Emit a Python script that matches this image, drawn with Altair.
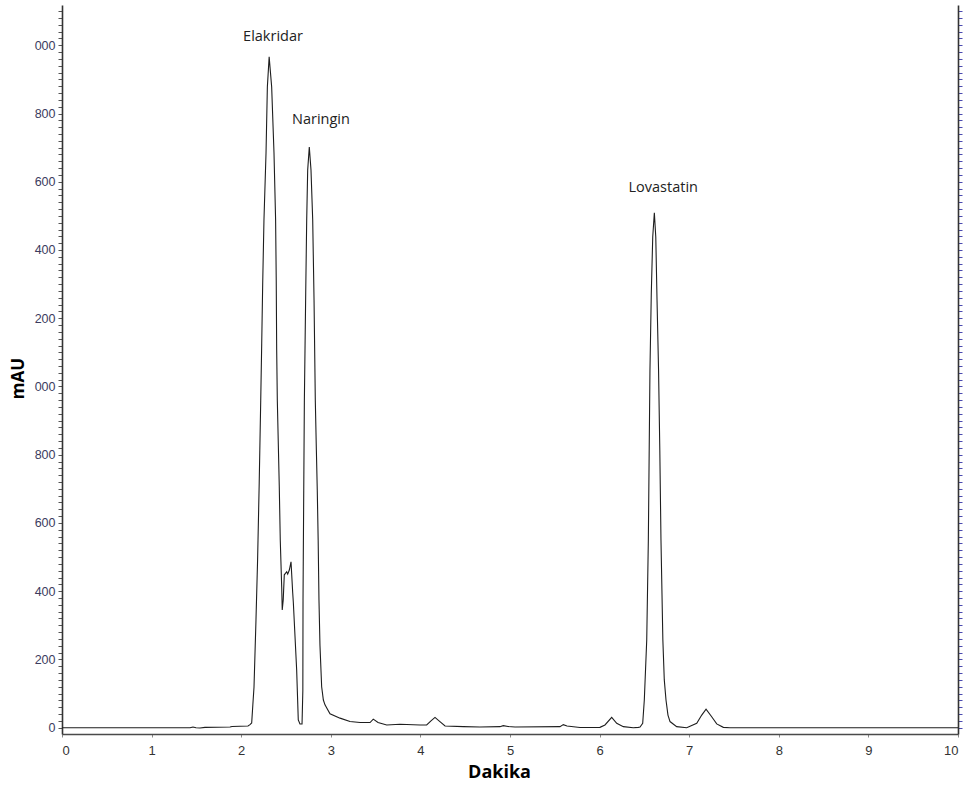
import altair as alt
import pandas as pd

# Chromatogram trace (time in minutes, signal in mAU)
time_min = [0.000, 1.429, 1.462, 1.496, 1.540, 1.596, 1.875, 1.897, 2.076, 2.098,
            2.117, 2.130, 2.143, 2.165, 2.183, 2.201, 2.218, 2.229, 2.240, 2.254,
            2.277, 2.292, 2.312, 2.340, 2.366, 2.384, 2.391, 2.396, 2.403, 2.425,
            2.436, 2.452, 2.458, 2.469, 2.481, 2.508, 2.519, 2.537, 2.556, 2.575,
            2.582, 2.619, 2.637, 2.656, 2.679, 2.688, 2.690, 2.693, 2.705, 2.720,
            2.731, 2.742, 2.760, 2.779, 2.798, 2.813, 2.827, 2.839, 2.849, 2.859,
            2.868, 2.879, 2.898, 2.917, 2.935, 2.991, 3.103, 3.214, 3.326, 3.438,
            3.474, 3.527, 3.624, 3.772, 3.996, 4.070, 4.118, 4.163, 4.208, 4.275,
            4.479, 4.665, 4.888, 4.925, 4.978, 5.056, 5.558, 5.595, 5.636, 5.781,
            6.004, 6.060, 6.135, 6.191, 6.265, 6.376, 6.432, 6.451, 6.481, 6.499,
            6.526, 6.544, 6.562, 6.577, 6.593, 6.611, 6.627, 6.641, 6.658, 6.672,
            6.685, 6.706, 6.722, 6.741, 6.763, 6.786, 6.860, 6.972, 7.084, 7.140,
            7.188, 7.251, 7.307, 7.381, 7.455, 10.000]
signal_mau = [0, 0, 2, 0, -1, 1, 2, 3.5, 5, 9,
              14, 67, 119, 316, 492, 717, 960, 1127, 1303, 1488,
              1684, 1878, 1966, 1878, 1684, 1488, 1312, 1107, 960, 706,
              550, 412, 345, 374, 448, 457, 450, 462, 486, 395,
              366, 169, 23, 11, 11, 110, 374, 500, 960, 1274,
              1488, 1634, 1702, 1634, 1488, 1253, 960, 813, 696, 550,
              374, 242, 120, 81, 67, 41, 28, 18, 15, 15,
              25, 15, 8, 10, 8, 8, 20, 30, 20, 5,
              3, 2, 3, 6, 3.5, 2, 3, 9, 5, 0.5,
              1, 8, 30, 13, 3, 0, 1, 2, 13, 81,
              257, 550, 1048, 1274, 1438, 1509, 1438, 1253, 1048, 813,
              550, 257, 140, 81, 37, 18, 3, 0, 13, 37,
              54, 32, 11, 1, 0, 0]

# Peak annotations
peak_names = ["Elakridar", "Naringin", "Lovastatin"]
label_time = [2.355, 2.89, 6.71]
label_mau = [2024, 1780, 1582]

# Axis ticks
x_ticks = list(range(0, 11))
y_ticks = list(range(0, 2101, 20))

trace = pd.DataFrame({"t": time_min, "mau": signal_mau})
labels = pd.DataFrame({"t": label_time, "mau": label_mau, "name": peak_names})

x_scale = alt.Scale(domain=[0, 10], nice=False, zero=False)
y_scale = alt.Scale(domain=[-18.5, 2118], nice=False, zero=False)

x_axis = alt.Axis(
    values=x_ticks, format="d", grid=False, tickCount=50,
    tickSize=3, tickColor="#8a8a8a", tickWidth=1,
    domainColor="#4a4a4a", domainWidth=1.6,
    labelFont="Liberation Sans", labelFontSize=13, labelColor="#333333",
    labelPadding=7, labelOverlap=False,
    title="Dakika", titleFont="Open Sans", titleFontWeight="bold",
    titleFontSize=18, titleColor="#000000",
    titleX=437, titleY=38, titleBaseline="middle", titleAlign="center",
)

y_label_expr = (
    "datum.value % 200 == 0 && datum.value <= 2000 ? "
    "(datum.value == 0 ? '0' : format(datum.value % 1000, '03d')) : ''"
)

y_axis_left = alt.Axis(
    values=y_ticks, grid=False, labelExpr=y_label_expr, tickCount=500,
    tickSize=4, tickColor="#555555", tickWidth=1,
    domainColor="#333333", domainWidth=1.6,
    labelFont="Liberation Sans", labelFontSize=12.5, labelColor="#3c3c5e",
    labelPadding=3, labelOverlap=False, labelBaseline="middle",
    title="mAU", titleFont="Open Sans", titleFontWeight="bold",
    titleFontSize=17, titleColor="#000000",
    titleX=-44, titleY=373, titleAngle=-90,
    titleBaseline="middle", titleAlign="center",
)

y_axis_right = alt.Axis(
    values=y_ticks, grid=False, labels=False, orient="right", tickCount=500,
    tickSize=4, tickColor="#4b4bb0", tickWidth=1,
    domainColor="#333333", domainWidth=1.6,
    title=None,
)

line = alt.Chart(trace).mark_line(
    color="#1e1e1e", strokeWidth=1.1, interpolate="linear", clip=True
).encode(
    x=alt.X("t:Q", scale=x_scale, axis=x_axis),
    y=alt.Y("mau:Q", scale=y_scale, axis=y_axis_left),
    order="t:Q",
)

text = alt.Chart(labels).mark_text(
    font="Open Sans", fontSize=14.5, color="#222222",
    align="center", baseline="middle",
).encode(
    x=alt.X("t:Q", scale=x_scale),
    y=alt.Y("mau:Q", scale=y_scale),
    text="name:N",
)

right_axis = alt.Chart(trace).mark_line(strokeOpacity=0).encode(
    x=alt.X("t:Q", scale=x_scale),
    y=alt.Y("mau:Q", scale=y_scale, axis=y_axis_right),
)

chart = alt.layer(alt.layer(line, text), right_axis).resolve_scale(
    y="independent"
).properties(
    width=896,
    height=729,
    padding={"left": 62, "top": 5, "right": 11, "bottom": 56},
    autosize=alt.AutoSizeParams(type="none"),
    background="#ffffff",
).configure_view(strokeWidth=0)

chart.save("out.html", embed_options={"renderer": "svg", "actions": False})
